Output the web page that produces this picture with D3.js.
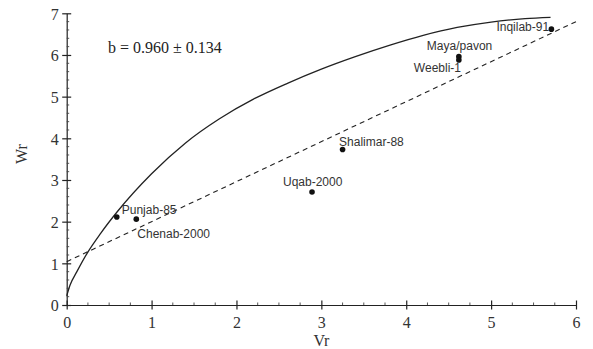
<!DOCTYPE html>
<html>
<head>
<meta charset="utf-8">
<script src="https://cdn.jsdelivr.net/npm/d3@7"></script>
<style>
  html, body { margin: 0; padding: 0; background: #fff; }
  svg { display: block; }
</style>
</head>
<body>
<svg id="chart" width="593" height="349"></svg>
<script>
// Cultivars: Vr (x) and Wr (y)
const cultivars = ["Punjab-85", "Chenab-2000", "Uqab-2000", "Shalimar-88", "Maya/pavon", "Weebli-1", "Inqilab-91"];
const vrValues = [0.59, 0.82, 2.89, 3.25, 4.62, 4.62, 5.71];
const wrValues = [2.11, 2.06, 2.71, 3.73, 5.96, 5.88, 6.62];

// Limiting parabola, traced as (Vr, Wr) pairs
const parabolaVr = [0, 0.04, 0.12, 0.24, 0.40, 0.60, 1.00, 1.40, 1.80, 2.20, 2.60, 3.00, 3.40, 3.80, 4.20, 4.60, 5.00, 5.40, 5.70];
const parabolaWr = [0.22, 0.48, 0.80, 1.24, 1.72, 2.25, 3.15, 3.89, 4.47, 4.94, 5.32, 5.66, 5.96, 6.23, 6.47, 6.66, 6.79, 6.87, 6.90];

// Regression line Wr = a + b·Vr
const regIntercept = 1.04;
const regSlope = 0.960;
const regSlopeErr = 0.134;
const regVrRange = [0, 6];

// Axis ticks
const xTicks = [0, 1, 2, 3, 4, 5, 6];
const yTicks = [0, 1, 2, 3, 4, 5, 6, 7];

const svg = d3.select("#chart");
const margin = { left: 66.7, right: 17, top: 13.3, bottom: 44 };
const W = 593, H = 349;

const x = d3.scaleLinear().domain([0, 6]).range([margin.left, W - margin.right]);
const y = d3.scaleLinear().domain([0, 7]).range([H - margin.bottom, margin.top]);

const serif = "'Liberation Serif', 'Times New Roman', serif";
const sans = "'Liberation Sans', Arial, sans-serif";

// Minor ticks
const xMinor = d3.range(0, 6.0001, 0.25).filter(v => Math.abs(v - Math.round(v)) > 1e-6);
const yMinor = d3.range(0, 7.0001, 0.2).filter(v => Math.abs(v - Math.round(v)) > 1e-6);

// X axis
const gx = svg.append("g")
  .attr("transform", `translate(0,${y(0)})`)
  .call(d3.axisBottom(x).tickValues(xTicks).tickSize(4.5).tickSizeOuter(0).tickPadding(0).tickFormat(d3.format("d")));
gx.select(".domain").attr("stroke", "#222").attr("stroke-width", 1.2);
gx.selectAll(".tick line").attr("y1", -4.5).attr("y2", 4.5).attr("stroke", "#222").attr("stroke-width", 1.2);
gx.selectAll(".tick text")
  .attr("y", 23).attr("dy", null)
  .attr("font-family", serif).attr("font-size", 16).attr("fill", "#333");
gx.selectAll(".minor").data(xMinor).join("line")
  .attr("class", "minor")
  .attr("x1", d => x(d)).attr("x2", d => x(d))
  .attr("y1", 0).attr("y2", -2.5)
  .attr("stroke", "#444").attr("stroke-width", 0.9);

// Y axis
const gy = svg.append("g")
  .attr("transform", `translate(${x(0)},0)`)
  .call(d3.axisLeft(y).tickValues(yTicks).tickSize(4.5).tickSizeOuter(0).tickPadding(0).tickFormat(d3.format("d")));
gy.select(".domain").attr("stroke", "#222").attr("stroke-width", 1.2);
gy.selectAll(".tick line").attr("x1", -4.5).attr("x2", 4.5).attr("stroke", "#222").attr("stroke-width", 1.2);
gy.selectAll(".tick text")
  .attr("x", -8).attr("dy", "0.36em")
  .attr("font-family", serif).attr("font-size", 16).attr("fill", "#333");
gy.selectAll(".minor").data(yMinor).join("line")
  .attr("class", "minor")
  .attr("x1", 0).attr("x2", 2.5)
  .attr("y1", d => y(d)).attr("y2", d => y(d))
  .attr("stroke", "#444").attr("stroke-width", 0.9);

// Axis titles
svg.append("text")
  .attr("x", (x(0) + x(6)) / 2).attr("y", 346)
  .attr("text-anchor", "middle")
  .attr("font-family", serif).attr("font-size", 16).attr("fill", "#333")
  .text("Vr");
svg.append("text")
  .attr("transform", `translate(26.5,${(y(0) + y(7)) / 2 - 5}) rotate(-90)`)
  .attr("text-anchor", "middle")
  .attr("font-family", serif).attr("font-size", 16).attr("fill", "#333")
  .text("Wr");

// Limiting parabola
const parabola = parabolaVr.map((v, i) => [v, parabolaWr[i]]);
svg.append("path")
  .datum(parabola)
  .attr("fill", "none").attr("stroke", "#222").attr("stroke-width", 1.3)
  .attr("d", d3.line().x(d => x(d[0])).y(d => y(d[1])).curve(d3.curveMonotoneX));

// Regression line (dashed)
const regLine = regVrRange.map(v => [v, regIntercept + regSlope * v]);
svg.append("path")
  .datum(regLine)
  .attr("fill", "none").attr("stroke", "#222").attr("stroke-width", 1.1)
  .attr("stroke-dasharray", "5,4")
  .attr("d", d3.line().x(d => x(d[0])).y(d => y(d[1])));

// Regression coefficient
svg.append("text")
  .attr("x", 108).attr("y", 53)
  .attr("font-family", serif).attr("font-size", 16).attr("fill", "#222")
  .text(`b = ${regSlope.toFixed(3)} ± ${regSlopeErr.toFixed(3)}`);

// Cultivar points
const pts = cultivars.map((c, i) => ({ name: c, vr: vrValues[i], wr: wrValues[i] }));
svg.selectAll(".pt").data(pts).join("circle")
  .attr("class", "pt")
  .attr("cx", d => x(d.vr)).attr("cy", d => y(d.wr)).attr("r", 2.8)
  .attr("fill", "#111");

// Label offsets (dx, dy from the point, with anchor)
const labelOffsets = {
  "Punjab-85": [5, -3, "start"],
  "Chenab-2000": [1, 19, "start"],
  "Uqab-2000": [-29, -6, "start"],
  "Shalimar-88": [-3.5, -4, "start"],
  "Maya/pavon": [-32, -6.5, "start"],
  "Weebli-1": [-45, 12.5, "start"],
  "Inqilab-91": [-55, 2, "start"]
};
svg.selectAll(".lbl").data(pts).join("text")
  .attr("class", "lbl")
  .attr("x", d => x(d.vr) + labelOffsets[d.name][0])
  .attr("y", d => y(d.wr) + labelOffsets[d.name][1])
  .attr("text-anchor", d => labelOffsets[d.name][2])
  .attr("font-family", sans).attr("font-size", 12).attr("fill", "#333")
  .text(d => d.name);
</script>
</body>
</html>
